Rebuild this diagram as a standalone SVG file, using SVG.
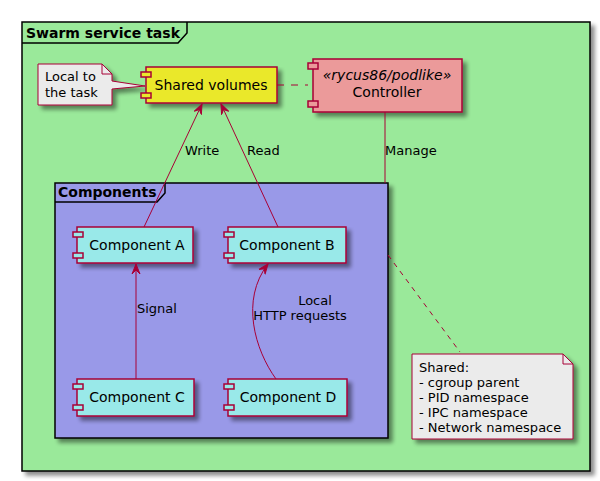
<svg xmlns="http://www.w3.org/2000/svg" width="600" height="481" viewBox="0 0 600 481">
<defs>
<filter id="sh" x="-10%" y="-10%" width="130%" height="140%">
<feGaussianBlur in="SourceAlpha" stdDeviation="2"/>
<feOffset dx="4" dy="4" result="b"/>
<feComponentTransfer><feFuncA type="linear" slope="0.45"/></feComponentTransfer>
<feMerge><feMergeNode/><feMergeNode in="SourceGraphic"/></feMerge>
</filter>
<marker id="arr" viewBox="0 0 11 10" refX="10" refY="5" markerWidth="11" markerHeight="10" orient="auto" markerUnits="userSpaceOnUse">
<path d="M10,5 L0,1 L4,5 L0,9 Z" fill="#A80036" stroke="#A80036" stroke-width="1"/>
</marker>
</defs>
<style>
text{font-family:"DejaVu Sans",Verdana,sans-serif;fill:#000}
.frame{stroke:#000;stroke-width:1.5}
.comp{stroke:#A80036;stroke-width:1.5}
.icon{stroke:#A80036;stroke-width:1.5}
.note{fill:#EBEBEB;stroke:#A80036;stroke-width:1}
.edge{fill:none;stroke:#A80036;stroke-width:1}
.lbl{font-size:13px}
.cl{font-size:14px;text-anchor:middle}
.ft{font-size:14px;font-weight:bold}
</style>
<g id="swarm-frame">
<rect x="22" y="22" width="568" height="449" fill="#9AE99A" class="frame" filter="url(#sh)"/>
<path d="M22,43 L178,43 L187,33 L187,22" fill="none" class="frame"/>
<text x="26" y="38" class="ft">Swarm service task</text>
</g>
<g id="components-frame">
<rect x="55" y="183" width="333" height="255" fill="#9999E8" class="frame" filter="url(#sh)"/>
<path d="M55,202 L157,202 L165,193 L165,183" fill="none" class="frame"/>
<text x="58" y="197" class="ft">Components</text>
</g>
<g id="note-local">
<path d="M38,64 L102,64 L112,74 L112,81 L145,86 L112,89 L112,105 L38,105 Z" class="note" filter="url(#sh)"/>
<path d="M102,64 L102,74 L112,74" fill="none" stroke="#A80036" stroke-width="1"/>
<text x="45" y="81" class="lbl">Local to</text>
<text x="45" y="97" class="lbl">the task</text>
</g>
<g id="shared-volumes">
<rect x="146" y="67" width="131" height="36" fill="#EAE82C" class="comp" filter="url(#sh)"/>
<rect x="141" y="72" width="10" height="5" fill="#EAE82C" class="icon"/>
<rect x="141" y="93" width="10" height="5" fill="#EAE82C" class="icon"/>
<text x="211" y="90" class="cl">Shared volumes</text>
</g>
<g id="controller">
<rect x="313" y="59" width="149" height="53" fill="#EB9A9A" class="comp" filter="url(#sh)"/>
<rect x="308" y="63" width="10" height="6" fill="#EB9A9A" class="icon"/>
<rect x="308" y="101" width="10" height="6" fill="#EB9A9A" class="icon"/>
<text x="387" y="80" class="cl" font-style="italic">«rycus86/podlike»</text>
<text x="387" y="97" class="cl">Controller</text>
</g>
<g id="component-a">
<rect x="77" y="227" width="116" height="36" fill="#99E9E9" class="comp" filter="url(#sh)"/>
<rect x="73" y="232" width="10" height="5" fill="#99E9E9" class="icon"/>
<rect x="73" y="253" width="10" height="5" fill="#99E9E9" class="icon"/>
<text x="137" y="250" class="cl">Component A</text>
</g>
<g id="component-b">
<rect x="228" y="227" width="118" height="36" fill="#99E9E9" class="comp" filter="url(#sh)"/>
<rect x="224" y="232" width="10" height="5" fill="#99E9E9" class="icon"/>
<rect x="224" y="253" width="10" height="5" fill="#99E9E9" class="icon"/>
<text x="287" y="250" class="cl">Component B</text>
</g>
<g id="component-c">
<rect x="77" y="379" width="117" height="37" fill="#99E9E9" class="comp" filter="url(#sh)"/>
<rect x="73" y="384" width="10" height="5" fill="#99E9E9" class="icon"/>
<rect x="73" y="405" width="10" height="5" fill="#99E9E9" class="icon"/>
<text x="137" y="402" class="cl">Component C</text>
</g>
<g id="component-d">
<rect x="228" y="379" width="119" height="37" fill="#99E9E9" class="comp" filter="url(#sh)"/>
<rect x="224" y="384" width="10" height="5" fill="#99E9E9" class="icon"/>
<rect x="224" y="405" width="10" height="5" fill="#99E9E9" class="icon"/>
<text x="288" y="402" class="cl">Component D</text>
</g>
<g id="note-shared">
<path d="M412,354 L563,354 L573,364 L573,439 L412,439 Z" class="note" filter="url(#sh)"/>
<path d="M563,354 L563,364 L573,364" fill="none" stroke="#A80036" stroke-width="1"/>
<text x="419" y="372" class="lbl">Shared:</text>
<text x="419" y="387" class="lbl">- cgroup parent</text>
<text x="419" y="402" class="lbl">- PID namespace</text>
<text x="419" y="417" class="lbl">- IPC namespace</text>
<text x="419" y="432" class="lbl">- Network namespace</text>
</g>
<g id="connectors">
<path d="M277,85 L308,85" class="edge" stroke-dasharray="7,7"/>
<path d="M144,227 L202,104" class="edge" marker-end="url(#arr)"/>
<text x="185" y="155" class="lbl">Write</text>
<path d="M278,227 L221,104" class="edge" marker-end="url(#arr)"/>
<text x="247" y="155" class="lbl">Read</text>
<path d="M385,112 L385,183" class="edge"/>
<text x="385" y="155" class="lbl">Manage</text>
<path d="M136,379 L136,264" class="edge" marker-end="url(#arr)"/>
<text x="137" y="313" class="lbl">Signal</text>
<path d="M276,379 C255,350 240,300 268,264" class="edge" marker-end="url(#arr)"/>
<text x="315" y="305" class="lbl" text-anchor="middle">Local</text>
<text x="300" y="320" class="lbl" text-anchor="middle">HTTP requests</text>
<path d="M388,255 L460,352" class="edge" stroke-dasharray="5,5"/>
</g>
</svg>
